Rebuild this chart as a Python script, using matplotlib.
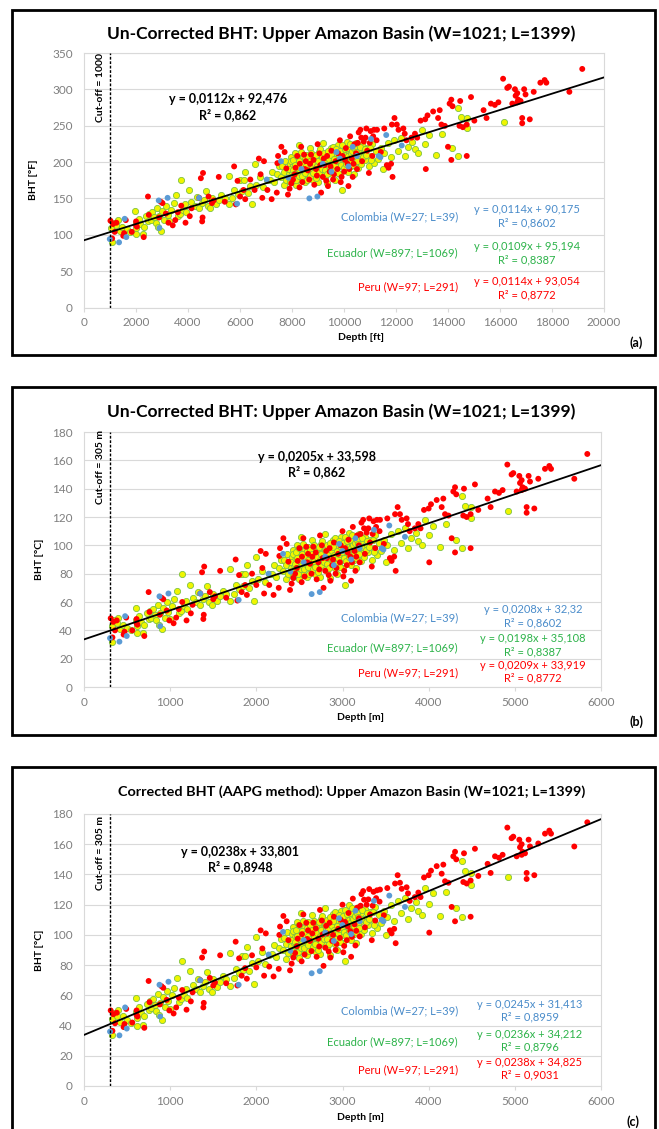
import numpy as np
import matplotlib.pyplot as plt
from matplotlib.patches import Rectangle

plt.rcParams['font.family'] = ['Lato', 'DejaVu Sans']

# well data: depth [m], BHT [°C];
# *_corr = AAPG-corrected BHT [°C]
peru_depth = [310, 340, 380, 360, 330, 460, 470, 490, 560, 610, 610, 620, 700, 750, 760, 880, 900, 920, 960, 990,
              1040, 1070, 1100, 1140, 1190, 1240, 1260, 1350, 1370, 1395, 1390, 1385, 1460, 1500, 1520, 1580, 1650,
              1760, 1780, 1800, 1830, 1870, 1890, 1950, 2000, 2050, 2070, 2090, 2110, 2150, 2200, 2260,
              2275, 2314, 2352, 2267, 2372, 2430, 2410, 2391, 2450, 2480, 2500, 2526, 2546, 2560, 2580, 2600, 2623,
              2650, 2661, 2700, 2720, 2739, 2760, 2780, 2800, 2820, 2850, 2860, 2880, 2900, 2920, 2950, 2970, 3000,
              3010, 3030, 3050, 3070, 3090, 3100, 3120, 3140, 3150, 3170, 3190, 3200, 3220, 3240, 3260, 3280, 3300,
              3320, 3340, 3360, 3380, 3400,
              2470, 2530, 2590, 2640, 2690, 2730, 2770, 2810, 2840, 2890, 2930, 2980, 3020, 3060, 3110, 3160,
              3210, 3250, 3310, 3350, 3390, 3430,
              3435, 3480, 3520, 3550, 3570, 3600, 3610, 3617, 3640, 3667, 3687, 3744, 3760, 3780, 3840, 3880, 3906,
              3946, 4000, 4007, 4027, 4093, 4151, 4170, 4190, 4230, 4267, 4286, 4306, 4306, 4320, 4402, 4410, 4441,
              4487, 4487, 4537, 4576, 4684, 4719, 4770, 4816, 4858, 4913, 4962, 4982, 5021, 5052, 5060, 5079, 5079,
              5090, 5118, 5137, 5137, 5160, 5176, 5226, 5272, 5350, 5400, 5420, 5690, 5841]
peru_bht = [48.5, 46, 47, 40, 35, 37, 39, 49, 40, 48, 45, 44, 36, 67, 53, 51, 63, 62, 54, 47,
            45, 49, 55, 60, 47, 52, 58, 66, 81, 85, 51, 48, 67, 62, 64, 82, 63,
            90, 61, 79, 67, 72, 65, 80, 72, 96, 84, 66, 94, 72, 65, 70,
            98, 105, 101, 92.5, 88.5, 77, 73, 68.5, 80, 89, 98, 74, 105, 78, 99, 94, 87,
            92, 99, 76, 88, 107, 100, 70, 82, 91, 98, 75, 86, 102, 80, 94, 88, 110,
            78, 98, 86, 104, 92, 75, 113, 96, 82, 107, 100, 88, 116, 118, 94, 109, 112,
            102, 85, 117, 98, 118,
            84, 92, 88, 80, 95, 83, 91, 96, 79, 90, 84, 100, 82, 95, 88, 92,
            108, 112, 119, 108, 113, 110,
            118, 101, 119, 91, 89, 92, 122, 82, 127, 122, 118, 119, 115, 110, 112, 115, 112,
            125, 126, 88, 129, 132, 127, 133, 122, 121, 105, 138, 141, 95, 136, 121, 140, 120,
            122, 98, 143, 125, 133, 127, 138, 137, 139, 157, 150, 151, 138, 149, 144, 146, 139,
            141, 140, 127, 123, 149, 145, 126, 147, 154, 156, 154, 147, 164.5]
peru_corr = [50, 47.5, 48.5, 41.5, 36.5, 39, 41, 51, 42, 50, 47, 46, 38.5, 69.5, 55.5, 54, 66, 65, 57, 50,
             48, 52, 58.5, 63.5, 50.5, 56, 62, 70, 85, 89, 55, 52, 71.5, 66.5, 68.5, 86.5, 68,
             95.5, 66.5, 84.5, 73, 78, 71, 86.5, 78.5, 103, 91, 73, 101, 79, 72.5, 77.5,
             105.5, 112.5, 109, 100, 96.5, 85, 81, 76.5, 88, 97.5, 106.5, 82.5, 113.5, 87, 108, 103, 96,
             101, 108, 85.5, 97.5, 116.5, 109.5, 79.5, 91.5, 101, 108, 85, 96, 112, 90, 104, 98, 120,
             88.5, 108.5, 96.5, 114.5, 102.5, 85.5, 124, 107, 93, 118, 111, 99, 127, 129, 105, 120, 123.5,
             113.5, 96.5, 128.5, 109.5, 129.5,
             92.5, 100.5, 97.3, 89.3, 104.3, 92.3, 100.3, 106, 89, 100, 94, 110, 92.7, 105.7, 98.7, 102.7,
             119.3, 123.3, 130.3, 119.3, 124.3, 122,
             130, 113, 131, 103, 101, 104, 134, 94.5, 139.5, 134.5, 130.5, 131.5, 127.5, 122.5, 125, 128, 125,
             138, 139.5, 101.5, 142.5, 145.5, 140.5, 146.5, 135.5, 134.5, 118.5, 152, 155, 109, 150, 135, 154, 134,
             136, 112, 157, 139, 147, 141, 152, 151, 153, 171, 164, 165, 152, 163, 158, 160, 153,
             155, 154, 141, 137, 163, 158.5, 139.5, 160.5, 167, 169, 167, 158.5, 174.5]

ecuador_depth = [320, 330, 350, 380, 400, 420, 450, 500, 540, 600, 605, 612, 612, 640, 660, 690, 700, 729, 750, 767,
                 780, 800, 820, 840, 860, 870, 880, 900, 920, 940, 960, 980,
                 1000, 1020, 1050, 1078, 1097, 1120, 1136, 1160, 1180, 1200, 1233, 1260, 1300, 1320, 1350, 1380,
                 1410, 1426, 1450, 1480, 1500, 1543, 1580, 1610, 1650, 1698, 1700, 1736, 1760, 1800, 1830, 1850,
                 1872, 1891, 1920, 1950, 1969, 2000, 2020, 2060, 2100, 2143, 2182, 2200, 2230, 2260, 2290,
                 2310, 2320, 2340, 2350, 2360, 2370, 2390, 2400, 2410, 2420, 2430, 2440, 2450, 2460, 2470, 2480,
                 2490, 2500, 2510, 2520, 2530, 2540, 2550, 2560, 2570, 2580, 2590, 2600, 2610, 2620, 2630, 2640,
                 2650, 2660, 2670, 2680, 2690, 2700, 2710, 2720, 2730, 2740, 2750, 2760, 2770, 2780, 2790, 2800,
                 2810, 2820, 2830, 2840, 2850, 2860, 2870, 2880, 2890, 2900, 2910, 2920, 2930, 2940, 2950, 2960,
                 2970, 2980, 2990, 3000, 3010, 3020, 3030, 3040, 3050, 3060, 3070, 3080, 3090, 3100, 3110, 3120,
                 3130, 3140, 3150, 3160, 3170, 3180, 3190, 3200, 3210, 3220, 3240, 3250, 3260, 3280, 3300, 3320,
                 3340, 3360, 3380, 3400, 3420,
                 2405, 2415, 2425, 2435, 2445, 2455, 2465, 2475, 2485, 2495, 2505, 2515, 2525, 2535, 2545, 2555,
                 2565, 2575, 2585, 2595, 2605, 2615, 2625, 2635, 2645, 2655, 2665, 2675, 2685, 2695, 2705, 2715,
                 2725, 2735, 2745, 2755, 2765, 2775, 2785, 2795, 2805, 2815, 2825, 2835, 2845, 2855, 2865, 2875,
                 2885, 2895, 2905, 2915, 2925, 2935, 2945, 2955, 2965, 2975, 2985, 2995, 3005, 3015, 3025, 3035,
                 3045, 3055, 3065, 3075, 3085, 3095, 3105, 3115, 3125, 3135, 3145, 3155, 3165, 3175, 3185, 3195,
                 3230, 3270, 3290, 3310, 3350, 3370,
                 3450, 3480, 3500, 3520, 3560, 3600, 3640, 3680, 3720, 3760, 3800, 3850, 3880, 3920, 3960, 4000,
                 4050, 4130, 4200, 4313, 4383, 4390, 4420, 4495, 4491, 4924]
ecuador_bht = [43, 32, 47, 45, 49, 41, 44, 42, 40, 56, 47, 43, 38, 50, 46, 38, 44, 52, 48, 54,
               49, 55, 51, 47, 58, 44, 52, 41, 56, 49, 60, 53,
               48, 57, 62, 68, 52, 54, 80, 57, 61, 55, 72, 63, 60, 67, 58, 62,
               64, 71, 60, 58, 66, 61, 64, 68, 66, 83, 61, 66, 72, 69, 80, 71,
               80, 86, 70, 75, 61, 92, 76, 82, 74, 80, 80, 86, 78, 84, 90,
               82, 90, 76, 86, 94, 80, 88, 84, 92, 78, 97, 86, 90, 82, 100, 88,
               76, 93, 85, 106, 90, 80, 96, 88, 84, 92, 78, 99, 87, 93, 82, 90,
               104, 86, 95, 80, 91, 88, 97, 84, 93, 78, 101, 89, 95, 85, 92, 108,
               88, 82, 96, 90, 77, 99, 86, 93, 104, 89, 84, 97, 92, 80, 100, 87,
               95, 106, 90, 84, 98, 92, 72, 102, 94, 88, 99, 109, 93, 86, 101, 96,
               90, 105, 98, 84, 100, 94, 108, 97, 89, 103, 99, 92, 106, 100, 95, 104,
               90, 98, 107, 93, 102,
               88, 81, 94, 79, 87, 95, 84, 91, 80, 98, 89, 83, 94, 86, 101, 83,
               92, 87, 96, 85, 90, 80, 97, 88, 94, 83, 100, 89, 85, 96, 92, 81,
               99, 90, 94, 86, 103, 91, 88, 97, 93, 100, 87, 94, 84, 102, 91, 96,
               88, 99, 93, 105, 87, 96, 91, 103, 94, 85, 99, 95, 102, 91, 106, 96,
               89, 103, 95, 92, 104, 98, 93, 107, 100, 95, 102, 91, 104, 97, 101, 94,
               105, 97, 103, 99, 104, 95,
               96, 104, 88, 100, 108, 97, 110, 102, 112, 98, 105, 109, 103, 100, 118, 107,
               114, 99, 115, 104, 98, 135, 128, 127, 119, 124]
ecuador_corr = [44.5, 33.5, 48.5, 46.5, 50.5, 42.5, 46, 44, 42, 58, 49, 45, 40, 52, 48, 40.5, 46.5, 54.5, 50.5, 56.5,
                51.5, 57.5, 53.5, 49.5, 61, 47, 55, 44, 59, 52, 63, 56,
                51, 60, 65, 71.5, 55.5, 57.5, 83, 60.5, 64.5, 58.5, 76, 67, 64, 71, 62, 66,
                68.5, 75.5, 64.5, 62.5, 70.5, 65.5, 68.5, 73, 71, 88, 66, 71.5, 77.5, 74.5, 86, 77,
                86, 92, 76, 81.5, 67.5, 98.5, 82.5, 89, 81, 87, 87.5, 93.5, 85.5, 91.5, 97.5,
                90, 98, 84, 94, 102, 88, 96, 92.5, 100.5, 86.5, 105.5, 94.5, 98.5, 90.5, 108.5, 96.5,
                84.5, 101.5, 93.5, 114.5, 98.5, 88.5, 104.5, 96.5, 92.5, 100.5, 86.5, 108.3, 96.3, 102.3, 91.3, 99.3,
                113.3, 95.3, 104.3, 89.3, 100.3, 97.3, 106.3, 93.3, 102.3, 87.3, 110.3, 98.3, 104.3, 94.3, 101.3, 118,
                98, 92, 106, 100, 87, 109, 96, 103, 114, 99, 94, 107, 102, 90, 110, 97,
                105, 116, 100, 94.7, 108.7, 102.7, 82.7, 112.7, 104.7, 98.7, 109.7, 119.7, 103.7, 96.7, 111.7, 106.7,
                100.7, 115.7, 108.7, 94.7, 110.7, 104.7, 118.7, 108.3, 100.3, 114.3, 110.3, 103.3, 117.3, 111.3, 106.3,
                115.3, 101.3, 109.3, 118.3, 104.3, 113.3,
                96.5, 89.5, 102.5, 87.5, 95.5, 103.5, 92.5, 99.5, 88.5, 106.5, 97.5, 91.5, 102.5, 94.5, 109.5, 91.5,
                100.5, 95.5, 104.5, 93.5, 99.3, 89.3, 106.3, 97.3, 103.3, 92.3, 109.3, 98.3, 94.3, 105.3, 101.3, 90.3,
                108.3, 99.3, 103.3, 95.3, 112.3, 100.3, 97.3, 106.3, 103, 110, 97, 104, 94, 112, 101, 106,
                98, 109, 103, 115, 97, 106, 101, 113, 104, 95, 109, 105, 112.7, 101.7, 116.7, 106.7,
                99.7, 113.7, 105.7, 102.7, 114.7, 108.7, 103.7, 117.7, 110.7, 105.7, 112.7, 101.7, 114.7, 107.7, 111.7,
                104.7, 116.3, 108.3, 114.3, 110.3, 115.3, 106.3,
                108, 116, 100, 112, 120, 109.5, 122.5, 114.5, 124.5, 110.7, 118, 122, 116, 113, 131, 120.3,
                127.5, 112.5, 128.5, 118, 112, 149, 142, 141, 133, 138]

colombia_depth = [302, 411, 477, 496, 876, 884, 980, 1349, 1795, 2143, 2310, 2395, 2550, 2642, 2736, 2800, 2900,
                  2960, 3000, 3100, 3150, 3200, 3365, 3455, 3475, 3543, 3725]
colombia_bht = [34.5, 32, 50, 36, 64, 43, 66, 66, 61.5, 80, 94, 81.5, 88, 65.6, 67, 92, 86,
                101, 96, 90, 105, 98, 111, 98, 97, 114, 106]
colombia_corr = [36, 33.5, 52, 38, 67, 46, 69, 70, 67, 87, 102, 89.5, 96.5, 74.6, 76, 101.5, 96,
                 111, 106.5, 100.5, 116, 109, 122.5, 110, 109, 126, 118.5]

# trend lines shown on the chart (slope, intercept)
trend_all = [(0.0112, 92.476), (0.0205, 33.598), (0.0238, 33.801)]
r2_all = ['0,862', '0,862', '0,8948']
eq_colombia = ['y = 0,0114x + 90,175\nR² = 0,8602', 'y = 0,0208x + 32,32\nR² = 0,8602',
               'y = 0,0245x + 31,413\nR² = 0,8959']
eq_ecuador = ['y = 0,0109x + 95,194\nR² = 0,8387', 'y = 0,0198x + 35,108\nR² = 0,8387',
              'y = 0,0236x + 34,212\nR² = 0,8796']
eq_peru = ['y = 0,0114x + 93,054\nR² = 0,8772', 'y = 0,0209x + 33,919\nR² = 0,8772',
           'y = 0,0238x + 34,825\nR² = 0,9031']
main_eq = ['y = 0,0112x + 92,476', 'y = 0,0205x + 33,598', 'y = 0,0238x + 33,801']
titles = ['Un-Corrected BHT: Upper Amazon Basin (W=1021; L=1399)',
          'Un-Corrected BHT: Upper Amazon Basin (W=1021; L=1399)',
          'Corrected BHT (AAPG method): Upper Amazon Basin (W=1021; L=1399)']

RED = '#ff0000'
BLUE = '#5b9bd5'
YEL = '#f0f500'
YEL_EDGE = '#7dc242'
GRID = '#d9d9d9'
TICK = '#7f7f7f'

W, H = 659, 1129
fig = plt.figure(figsize=(W / 100, H / 100), dpi=100)


def px_axes(x0, y0, x1, y1):
    return fig.add_axes([x0 / W, 1 - y1 / H, (x1 - x0) / W, (y1 - y0) / H])


def ftext(x, y, s, **kw):
    fig.text(x / W, 1 - y / H, s, **kw)


def box(y0, y1):
    fig.add_artist(Rectangle((12 / W, 1 - y1 / H), (655 - 12) / W, (y1 - y0) / H,
                             transform=fig.transFigure, fill=False, ec='black', lw=2))


def panel(ax, data, xmax, xstep, ymax, ystep, cut, k, cut_label, lab):
    ax.set_xlim(0, xmax)
    ax.set_ylim(0, ymax)
    ax.set_xticks(np.arange(0, xmax + 1, xstep))
    ax.set_yticks(np.arange(0, ymax + 1, ystep))
    ax.grid(axis='y', color=GRID, lw=0.8)
    ax.set_axisbelow(True)
    for s in ax.spines.values():
        s.set_color(GRID)
        s.set_linewidth(0.8)
    ax.tick_params(axis='y', length=0, pad=8, labelsize=8.5, labelcolor=TICK)
    ax.tick_params(axis='x', length=3, color=GRID, pad=4, labelsize=8.5, labelcolor=TICK)

    (ex, ey), (px_, py_), (cx, cy) = data
    ax.scatter(ex, ey, s=20, c=YEL, edgecolors=YEL_EDGE, linewidths=0.6, zorder=2)
    ax.scatter(px_, py_, s=18, c=RED, edgecolors='none', zorder=3)
    ax.scatter(cx, cy, s=18, c=BLUE, edgecolors='none', zorder=4)

    m, b = trend_all[k]
    ax.plot([0, xmax], [b, m * xmax + b], color='black', lw=1.3, zorder=5)
    ax.axvline(cut, color='black', lw=1, ls=(0, (2, 1.2)), zorder=5)
    ax.text(cut_label[0], cut_label[1], cut_label[2], rotation=90, ha='center', va='center',
            fontsize=7.5, fontweight='bold')
    ax.text(lab['eq'][0], lab['eq'][1], main_eq[k] + '\nR² = ' + r2_all[k], ha='center', va='center',
            fontsize=9, fontweight='bold', linespacing=1.25)
    xl, xe = lab['x']
    ax.text(xl, lab['col'][0], 'Colombia (W=27; L=39)', color='#4a8cca', ha='right', va='center', fontsize=8)
    ax.text(xe, lab['col'][1], eq_colombia[k], color='#4a8cca', ha='center', va='center', fontsize=8,
            linespacing=1.2)
    ax.text(xl, lab['ecu'][0], 'Ecuador (W=897; L=1069)', color='#2db34a', ha='right', va='center', fontsize=8)
    ax.text(xe, lab['ecu'][1], eq_ecuador[k], color='#2db34a', ha='center', va='center', fontsize=8,
            linespacing=1.2)
    ax.text(xl, lab['per'][0], 'Peru (W=97; L=291)', color=RED, ha='right', va='center', fontsize=8)
    ax.text(xe, lab['per'][1], eq_peru[k], color=RED, ha='center', va='center', fontsize=8,
            linespacing=1.2)


def to_ft(z):
    return np.array(z) / 0.3048


def to_f(t):
    return np.array(t) * 1.8 + 32


# (a) imperial units
box(10, 355)
ax = px_axes(84, 53, 604, 307.5)
panel(ax, [(to_ft(ecuador_depth), to_f(ecuador_bht)), (to_ft(peru_depth), to_f(peru_bht)),
           (to_ft(colombia_depth), to_f(colombia_bht))],
      20000, 2000, 350, 50, 1000, 0, (620, 303, 'Cut-off = 1000'),
      {'eq': (5540, 276), 'x': (14385, 17040), 'col': (125, 125.5), 'ecu': (75, 74.5), 'per': (28, 26.5)})
ftext(341, 34, titles[0], ha='center', va='center', fontsize=12.5, fontweight='bold')
ftext(33, 180, 'BHT [°F]', rotation=90, ha='center', va='center', fontsize=7.5, fontweight='bold')
ftext(361, 338, 'Depth [ft]', ha='center', va='center', fontsize=7.5, fontweight='bold')
ftext(636, 343, '(a)', ha='center', va='center', fontsize=9, fontweight='bold')

# (b) metric units
box(387, 735)
ax = px_axes(84, 432, 601, 687)
panel(ax, [(ecuador_depth, ecuador_bht), (peru_depth, peru_bht), (colombia_depth, colombia_bht)],
      6000, 1000, 180, 20, 305, 1, (197, 155, 'Cut-off = 305 m'),
      {'eq': (2704, 157), 'x': (4340, 5210), 'col': (49, 50), 'ecu': (28, 29.5), 'per': (10, 11)})
ftext(341, 412, titles[1], ha='center', va='center', fontsize=12.5, fontweight='bold')
ftext(39, 559, 'BHT [°C]', rotation=90, ha='center', va='center', fontsize=7.5, fontweight='bold')
ftext(361, 718, 'Depth [m]', ha='center', va='center', fontsize=7.5, fontweight='bold')
ftext(636, 722, '(b)', ha='center', va='center', fontsize=9, fontweight='bold')

# (c) AAPG corrected
box(767, 1160)
ax = px_axes(84, 814, 601, 1086)
panel(ax, [(ecuador_depth, ecuador_corr), (peru_depth, peru_corr), (colombia_depth, colombia_corr)],
      6000, 1000, 180, 20, 305, 2, (197, 154, 'Cut-off = 305 m'),
      {'eq': (1810, 150), 'x': (4340, 5176), 'col': (50, 50), 'ecu': (29, 30), 'per': (10.6, 11.5)})
ftext(352, 792, titles[2], ha='center', va='center', fontsize=10.4, fontweight='bold')
ftext(40, 950, 'BHT [°C]', rotation=90, ha='center', va='center', fontsize=7.5, fontweight='bold')
ftext(361, 1118, 'Depth [m]', ha='center', va='center', fontsize=7.5, fontweight='bold')
ftext(633, 1122, '(c)', ha='center', va='center', fontsize=9, fontweight='bold')

fig.savefig('out.png', dpi=100)
